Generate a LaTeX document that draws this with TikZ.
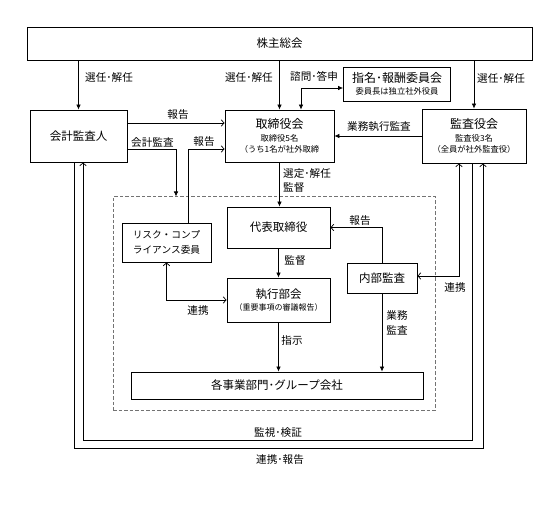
\documentclass[tikz,border=0pt]{standalone}
\usepackage{fontspec}
\setmainfont{Noto Sans CJK JP}
\usetikzlibrary{arrows.meta}
\tikzset{
  fatip/.tip={Latex[length=5pt,width=4.5pt]},
  optip/.tip={Straight Barb[length=3pt,width=6.5pt]},
  box/.style={draw, line width=0.8pt, fill=white, inner sep=0pt, align=center, font=\fontsize{11.5}{13}\selectfont},
  dbox/.style={draw=black!55, line width=1pt, dash pattern=on 3.5pt off 2pt, inner sep=0pt},
  conn/.style={line width=0.7pt},
  lbl/.style={inner sep=0pt, font=\fontsize{10.6}{12}\selectfont},
}
\newcommand{\bigt}{\fontsize{12}{14}\selectfont}
\newcommand{\smallt}{\fontsize{8.3}{9.5}\selectfont}
\begin{document}
\begin{tikzpicture}[x=1pt,y=-1pt]
\useasboundingbox (0,0) rectangle (560,513);
% group box
\node[dbox, minimum width=322pt, minimum height=213pt] (grp) at (274,303.5) {};
% boxes
\node[box, minimum width=505pt, minimum height=33pt] (sh) at (279.5,43.5) {株主総会};
\node[box, minimum width=97pt, minimum height=52pt] (kaikei) at (78.5,136) {会計監査人};
\node[box, minimum width=109pt, minimum height=52pt] (tori) at (279.5,136)
  {{\bigt 取締役会}\\[0pt]{\smallt 取締役5名}\\[-1.5pt]{\smallt （うち1名が社外取締}};
\node[box, minimum width=104pt, minimum height=54pt] (kansa) at (474,136)
  {{\bigt 監査役会}\\[0pt]{\smallt 監査役3名}\\[-1.5pt]{\smallt （全員が社外監査役）}};
\node[box, minimum width=107pt, minimum height=34pt] (shimei) at (397,84)
  {{\bigt 指名･報酬委員会}\\[-1.5pt]{\smallt 委員長は独立社外役員}};
\node[box, minimum width=103pt, minimum height=41pt] (daihyo) at (278.5,227.5) {代表取締役};
\node[box, minimum width=89pt, minimum height=39pt, font=\fontsize{9.7}{15}\selectfont] (risk) at (166.5,242.5)
  {リスク・コンプ\\ライアンス委員};
\node[box, minimum width=103pt, minimum height=44pt] (shikko) at (278.5,300)
  {執行部会\\[-1pt]{\fontsize{8}{9}\selectfont （重要事項の審議報告）}};
\node[box, minimum width=70pt, minimum height=30pt] (naibu) at (382,278) {内部監査};
\node[box, minimum width=292pt, minimum height=27pt] (jigyo) at (277,385.5) {各事業部門･グループ会社};
% connectors
\draw[conn,-fatip] (sh.south -| kaikei.north) -- (kaikei.north);
\draw[conn,-fatip] (sh.south -| tori.north) -- (tori.north);
\draw[conn,-fatip] (sh.south -| kansa.north) -- (kansa.north);
\draw[conn,fatip-fatip] ([xshift=21.5pt]tori.north) |- ([yshift=-4pt]shimei.west);
\draw[conn,-optip] ([yshift=13pt]kaikei.east) -- ([yshift=13pt]tori.west);
\draw[conn,-fatip] ([yshift=-13pt]kaikei.east) -| (grp.north -| 176,0);
\draw[conn,-optip] ([xshift=21.5pt]risk.north) |- ([yshift=-13pt]tori.west);
\draw[conn,-fatip] (kansa.west) -- (kansa.west -| tori.east);
\draw[conn,-fatip] (tori.south) -- (tori.south |- daihyo.north);
\draw[conn,-fatip] (daihyo.south) -- (shikko.north);
\draw[conn,optip-optip] (risk.south) |- (shikko.west);
\draw[conn,-fatip] (shikko.south) -- (shikko.south |- jigyo.north);
\draw[conn,-fatip] (naibu.south) -- (naibu.south |- jigyo.north);
\draw[conn,-optip] (naibu.north) |- (daihyo.east);
\draw[conn,optip-optip] ([yshift=2pt]naibu.east) -| ([xshift=-15pt]kansa.south);
\draw[conn,-optip] ([xshift=-2pt]kansa.south) -- ++(0,277) -| ([xshift=4.5pt]kaikei.south);
\draw[conn,-optip] ([xshift=-4.5pt]kaikei.south) -- ++(0,286) -| ([xshift=9pt]kansa.south);
% labels
\node[lbl, anchor=west] (l1) at (85,77) {選任･解任};
\node[lbl, anchor=east] (l2) at (273,77) {選任･解任};
\node[lbl] (l3) at (314,76) {諮問･答申};
\node[lbl, anchor=west] (l4) at (477,78) {選任･解任};
\node[lbl] (l5) at (178,115) {報告};
\node[lbl, anchor=west] (l6) at (131,142) {会計監査};
\node[lbl] (l7) at (204,142) {報告};
\node[lbl] (l8) at (379,127) {業務執行監査};
\node[lbl, anchor=west] (l9) at (283,173) {選定･解任};
\node[lbl, anchor=west] (l10) at (283,187) {監督};
\node[lbl] (l11) at (360,221) {報告};
\node[lbl] (l12) at (295,260) {監督};
\node[lbl] (l13) at (198,310) {連携};
\node[lbl] (l14) at (455,287) {連携};
\node[lbl] (l15) at (292,340) {指示};
\node[lbl] (l16) at (397,315) {業務};
\node[lbl] (l17) at (397,330) {監査};
\node[lbl] (l18) at (278,432) {監視･検証};
\node[lbl] (l19) at (280,460) {連携･報告};
\end{tikzpicture}
\end{document}
